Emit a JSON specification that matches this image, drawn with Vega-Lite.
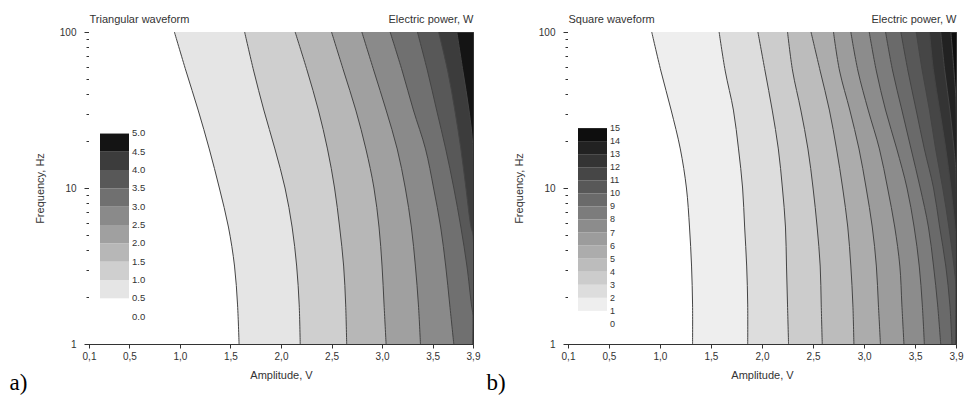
{
"$schema": "https://vega.github.io/schema/vega-lite/v6.json",
"padding": {"left": 8, "top": 12, "right": 8, "bottom": 2},
"background": "white",
"datasets": {
"tri": [
{"level":4.5,"f":100,"amp":3.74},{"level":4.5,"f":56.2,"amp":3.8},{"level":4.5,"f":31.6,"amp":3.86},{"level":4.5,"f":17.5,"amp":3.9},{"level":4.5,"f":1,"amp":3.9},
{"level":4,"f":100,"amp":3.56},{"level":4,"f":56.2,"amp":3.65},{"level":4,"f":31.6,"amp":3.72},{"level":4,"f":17.8,"amp":3.78},{"level":4,"f":10,"amp":3.83},{"level":4,"f":5.62,"amp":3.88},{"level":4,"f":5.0,"amp":3.9},{"level":4,"f":1,"amp":3.9},
{"level":3.5,"f":100,"amp":3.35},{"level":3.5,"f":56.2,"amp":3.45},{"level":3.5,"f":31.6,"amp":3.54},{"level":3.5,"f":17.8,"amp":3.63},{"level":3.5,"f":10,"amp":3.71},{"level":3.5,"f":5.62,"amp":3.78},{"level":3.5,"f":3.16,"amp":3.84},{"level":3.5,"f":1.78,"amp":3.885},{"level":3.5,"f":1.53,"amp":3.9},{"level":3.5,"f":1,"amp":3.9},
{"level":3,"f":100,"amp":3.08},{"level":3,"f":56.2,"amp":3.2},{"level":3,"f":31.6,"amp":3.31},{"level":3,"f":17.8,"amp":3.43},{"level":3,"f":10,"amp":3.51},{"level":3,"f":5.62,"amp":3.58},{"level":3,"f":3.16,"amp":3.63},{"level":3,"f":1.78,"amp":3.67},{"level":3,"f":1,"amp":3.71},
{"level":2.5,"f":100,"amp":2.8},{"level":2.5,"f":56.2,"amp":2.92},{"level":2.5,"f":31.6,"amp":3.04},{"level":2.5,"f":17.8,"amp":3.15},{"level":2.5,"f":10,"amp":3.23},{"level":2.5,"f":5.62,"amp":3.29},{"level":2.5,"f":3.16,"amp":3.33},{"level":2.5,"f":1.78,"amp":3.36},{"level":2.5,"f":1,"amp":3.38},
{"level":2,"f":100,"amp":2.5},{"level":2,"f":56.2,"amp":2.62},{"level":2,"f":31.6,"amp":2.74},{"level":2,"f":17.8,"amp":2.84},{"level":2,"f":10,"amp":2.92},{"level":2,"f":5.62,"amp":2.97},{"level":2,"f":3.16,"amp":3.0},{"level":2,"f":1.78,"amp":3.02},{"level":2,"f":1,"amp":3.04},
{"level":1.5,"f":100,"amp":2.14},{"level":1.5,"f":56.2,"amp":2.26},{"level":1.5,"f":31.6,"amp":2.37},{"level":1.5,"f":17.8,"amp":2.46},{"level":1.5,"f":10,"amp":2.53},{"level":1.5,"f":5.62,"amp":2.58},{"level":1.5,"f":3.16,"amp":2.62},{"level":1.5,"f":1.78,"amp":2.64},{"level":1.5,"f":1,"amp":2.65},
{"level":1,"f":100,"amp":1.64},{"level":1,"f":56.2,"amp":1.73},{"level":1,"f":31.6,"amp":1.83},{"level":1,"f":17.8,"amp":1.94},{"level":1,"f":10,"amp":2.04},{"level":1,"f":5.62,"amp":2.11},{"level":1,"f":3.16,"amp":2.155},{"level":1,"f":1.78,"amp":2.18},{"level":1,"f":1,"amp":2.19},
{"level":0.5,"f":100,"amp":0.945},{"level":0.5,"f":56.2,"amp":1.06},{"level":0.5,"f":31.6,"amp":1.18},{"level":0.5,"f":17.8,"amp":1.29},{"level":0.5,"f":10,"amp":1.39},{"level":0.5,"f":5.62,"amp":1.48},{"level":0.5,"f":3.16,"amp":1.54},{"level":0.5,"f":1.78,"amp":1.57},{"level":0.5,"f":1,"amp":1.585}
],
"sq": [
{"level":14,"f":100,"amp":3.85},{"level":14,"f":56.2,"amp":3.88},{"level":14,"f":35,"amp":3.9},{"level":14,"f":1,"amp":3.9},
{"level":13,"f":100,"amp":3.75},{"level":13,"f":56.2,"amp":3.79},{"level":13,"f":31.6,"amp":3.84},{"level":13,"f":17.8,"amp":3.88},{"level":13,"f":12,"amp":3.9},{"level":13,"f":1,"amp":3.9},
{"level":12,"f":100,"amp":3.64},{"level":12,"f":56.2,"amp":3.68},{"level":12,"f":31.6,"amp":3.74},{"level":12,"f":17.8,"amp":3.8},{"level":12,"f":10,"amp":3.85},{"level":12,"f":5.62,"amp":3.89},{"level":12,"f":4.6,"amp":3.9},{"level":12,"f":1,"amp":3.9},
{"level":11,"f":100,"amp":3.51},{"level":11,"f":56.2,"amp":3.57},{"level":11,"f":31.6,"amp":3.64},{"level":11,"f":17.8,"amp":3.7},{"level":11,"f":10,"amp":3.77},{"level":11,"f":5.62,"amp":3.83},{"level":11,"f":3.16,"amp":3.88},{"level":11,"f":2.3,"amp":3.9},{"level":11,"f":1,"amp":3.9},
{"level":10,"f":100,"amp":3.36},{"level":10,"f":56.2,"amp":3.43},{"level":10,"f":31.6,"amp":3.51},{"level":10,"f":17.8,"amp":3.59},{"level":10,"f":10,"amp":3.68},{"level":10,"f":5.62,"amp":3.74},{"level":10,"f":3.16,"amp":3.8},{"level":10,"f":1.78,"amp":3.84},{"level":10,"f":1,"amp":3.86},
{"level":9,"f":100,"amp":3.21},{"level":9,"f":56.2,"amp":3.28},{"level":9,"f":31.6,"amp":3.37},{"level":9,"f":17.8,"amp":3.46},{"level":9,"f":10,"amp":3.55},{"level":9,"f":5.62,"amp":3.63},{"level":9,"f":3.16,"amp":3.68},{"level":9,"f":1.78,"amp":3.72},{"level":9,"f":1,"amp":3.75},
{"level":8,"f":100,"amp":3.05},{"level":8,"f":56.2,"amp":3.12},{"level":8,"f":31.6,"amp":3.21},{"level":8,"f":17.8,"amp":3.32},{"level":8,"f":10,"amp":3.42},{"level":8,"f":5.62,"amp":3.49},{"level":8,"f":3.16,"amp":3.54},{"level":8,"f":1.78,"amp":3.57},{"level":8,"f":1,"amp":3.59},
{"level":7,"f":100,"amp":2.87},{"level":7,"f":56.2,"amp":2.94},{"level":7,"f":31.6,"amp":3.04},{"level":7,"f":17.8,"amp":3.15},{"level":7,"f":10,"amp":3.23},{"level":7,"f":5.62,"amp":3.3},{"level":7,"f":3.16,"amp":3.35},{"level":7,"f":1.78,"amp":3.37},{"level":7,"f":1,"amp":3.39},
{"level":6,"f":100,"amp":2.7},{"level":6,"f":56.2,"amp":2.76},{"level":6,"f":31.6,"amp":2.86},{"level":6,"f":17.8,"amp":2.95},{"level":6,"f":10,"amp":3.02},{"level":6,"f":5.62,"amp":3.08},{"level":6,"f":3.16,"amp":3.12},{"level":6,"f":1.78,"amp":3.14},{"level":6,"f":1,"amp":3.16},
{"level":5,"f":100,"amp":2.48},{"level":5,"f":56.2,"amp":2.57},{"level":5,"f":31.6,"amp":2.66},{"level":5,"f":17.8,"amp":2.73},{"level":5,"f":10,"amp":2.79},{"level":5,"f":5.62,"amp":2.84},{"level":5,"f":3.16,"amp":2.87},{"level":5,"f":1.78,"amp":2.89},{"level":5,"f":1,"amp":2.9},
{"level":4,"f":100,"amp":2.25},{"level":4,"f":56.2,"amp":2.3},{"level":4,"f":31.6,"amp":2.38},{"level":4,"f":17.8,"amp":2.45},{"level":4,"f":10,"amp":2.5},{"level":4,"f":5.62,"amp":2.54},{"level":4,"f":3.16,"amp":2.57},{"level":4,"f":1.78,"amp":2.58},{"level":4,"f":1,"amp":2.59},
{"level":3,"f":100,"amp":1.96},{"level":3,"f":56.2,"amp":2.03},{"level":3,"f":31.6,"amp":2.1},{"level":3,"f":17.8,"amp":2.16},{"level":3,"f":10,"amp":2.2},{"level":3,"f":5.62,"amp":2.23},{"level":3,"f":3.16,"amp":2.24},{"level":3,"f":1.78,"amp":2.25},{"level":3,"f":1,"amp":2.26},
{"level":2,"f":100,"amp":1.58},{"level":2,"f":56.2,"amp":1.64},{"level":2,"f":31.6,"amp":1.72},{"level":2,"f":17.8,"amp":1.77},{"level":2,"f":10,"amp":1.81},{"level":2,"f":5.62,"amp":1.83},{"level":2,"f":3.16,"amp":1.85},{"level":2,"f":1.78,"amp":1.86},{"level":2,"f":1,"amp":1.86},
{"level":1,"f":100,"amp":0.92},{"level":1,"f":56.2,"amp":1.01},{"level":1,"f":31.6,"amp":1.11},{"level":1,"f":17.8,"amp":1.2},{"level":1,"f":10,"amp":1.26},{"level":1,"f":5.62,"amp":1.29},{"level":1,"f":3.16,"amp":1.31},{"level":1,"f":1.78,"amp":1.32},{"level":1,"f":1,"amp":1.32}
]
},
"spacing": 95,
"bounds": "flush",
"resolve": {"scale": {"color": "independent", "x": "independent", "y": "independent"}, "legend": {"color": "independent"}},
"hconcat": [
{
"width": 384, "height": 312,
"view": {"fill": "#141414", "stroke": "#333333"},
"data": {"name": "tri"},
"encoding": {
 "y": {"field": "f", "type": "quantitative", "scale": {"type": "log", "domain": [1, 100], "nice": false},
  "axis": {"title": "Frequency, Hz", "values": [1,2,3,4,5,6,7,8,9,10,20,30,40,50,60,70,80,90,100], "format": "d",
   "labelExpr": "datum.value == 1 || datum.value == 10 || datum.value == 100 ? datum.label : ''",
   "tickSize": {"condition": {"test": "datum.value == 1 || datum.value == 10 || datum.value == 100", "value": 5}, "value": 3},
   "labelPadding": 8, "titlePadding": 14, "grid": false, "labelOverlap": false}}
},
"layer": [
 {"mark": {"type": "area", "orient": "horizontal", "interpolate": "catmull-rom", "clip": true},
  "encoding": {
   "x": {"field": "amp", "type": "quantitative", "stack": null, "scale": {"domain": [0.1, 3.9], "nice": false, "zero": false},
    "axis": {"orient": "bottom", "title": "Amplitude, V", "values": [0.1,0.5,1,1.5,2,2.5,3,3.5,3.9], "format": ".1f",
     "labelExpr": "replace(datum.label, '.', ',')", "grid": false, "tickSize": 4, "labelPadding": 3, "titlePadding": 8, "labelFlush": false, "labelOverlap": false}},
   "color": {"field": "level", "type": "quantitative",
    "scale": {"type": "threshold", "domain": [0.0001,0.5001,1.0001,1.5001,2.0001,2.5001,3.0001,3.5001,4.0001,4.5001,5.0001],
     "range": ["#ffffff","#ffffff","#e5e5e5","#cfcfcf","#b7b7b7","#a0a0a0","#8a8a8a","#707070","#585858","#3c3c3c","#141414","#ffffff"]},
    "legend": {"type": "gradient", "orient": "none", "legendX": 11, "legendY": 83, "direction": "vertical", "gradientLength": 220, "gradientThickness": 29, "gradientStrokeWidth": 0, "title": null, "format": ".1f", "labelFontSize": 9.5, "labelOffset": 3, "labelOverlap": false, "padding": 0}}
  }},
 {"mark": {"type": "line", "interpolate": "catmull-rom", "clip": true, "color": "#444444", "strokeWidth": 1},
  "encoding": {
   "x": {"field": "amp", "type": "quantitative", "axis": {"orient": "top", "title": "Electric power, W", "titleAnchor": "end", "labels": false, "ticks": false, "domain": true, "grid": false, "titlePadding": 8}},
   "detail": {"field": "level", "type": "nominal"},
   "order": {"field": "f", "type": "quantitative"}
  }},
 {"mark": {"type": "line", "opacity": 0},
  "encoding": {
   "x": {"field": "amp", "type": "quantitative", "axis": {"orient": "top", "title": "Triangular waveform", "titleAnchor": "start", "labels": false, "ticks": false, "domain": false, "grid": false, "titlePadding": 8}},
   "detail": {"field": "level", "type": "nominal"}
  }},
 {"mark": {"type": "line", "opacity": 0},
  "encoding": {
   "x": {"field": "amp", "type": "quantitative", "axis": {"orient": "bottom", "title": "a)", "labels": false, "ticks": false, "domain": false, "grid": false, "titleX": -80, "titleY": 45, "titleAlign": "left", "titleBaseline": "alphabetic", "titleFont": "Liberation Serif", "titleFontSize": 23, "titleColor": "#000000"}},
   "detail": {"field": "level", "type": "nominal"}
  }}
],
"resolve": {"axis": {"x": "independent"}}
},
{
"width": 388, "height": 312,
"view": {"fill": "#0e0e0e", "stroke": "#333333"},
"data": {"name": "sq"},
"encoding": {
 "y": {"field": "f", "type": "quantitative", "scale": {"type": "log", "domain": [1, 100], "nice": false},
  "axis": {"title": "Frequency, Hz", "values": [1,2,3,4,5,6,7,8,9,10,20,30,40,50,60,70,80,90,100], "format": "d",
   "labelExpr": "datum.value == 1 || datum.value == 10 || datum.value == 100 ? datum.label : ''",
   "tickSize": {"condition": {"test": "datum.value == 1 || datum.value == 10 || datum.value == 100", "value": 5}, "value": 3},
   "labelPadding": 8, "titlePadding": 14, "grid": false, "labelOverlap": false}}
},
"layer": [
 {"mark": {"type": "area", "orient": "horizontal", "interpolate": "catmull-rom", "clip": true},
  "encoding": {
   "x": {"field": "amp", "type": "quantitative", "stack": null, "scale": {"domain": [0.1, 3.9], "nice": false, "zero": false},
    "axis": {"orient": "bottom", "title": "Amplitude, V", "values": [0.1,0.5,1,1.5,2,2.5,3,3.5,3.9], "format": ".1f",
     "labelExpr": "replace(datum.label, '.', ',')", "grid": false, "tickSize": 4, "labelPadding": 3, "titlePadding": 8, "labelFlush": false, "labelOverlap": false}},
   "color": {"field": "level", "type": "quantitative",
    "scale": {"type": "threshold", "domain": [0.001,1.001,2.001,3.001,4.001,5.001,6.001,7.001,8.001,9.001,10.001,11.001,12.001,13.001,14.001,15.001],
     "range": ["#ffffff","#ffffff","#eeeeee","#dddddd","#cccccc","#bcbcbc","#acacac","#9c9c9c","#8c8c8c","#7c7c7c","#6a6a6a","#585858","#464646","#343434","#222222","#0e0e0e","#ffffff"]},
    "legend": {"type": "gradient", "orient": "none", "legendX": 10, "legendY": 83, "direction": "vertical", "gradientLength": 222, "gradientThickness": 29, "gradientStrokeWidth": 0, "title": null, "format": ".0f", "labelFontSize": 9, "labelOffset": 3, "labelOverlap": false, "padding": 0}}
  }},
 {"mark": {"type": "line", "interpolate": "catmull-rom", "clip": true, "color": "#444444", "strokeWidth": 1},
  "encoding": {
   "x": {"field": "amp", "type": "quantitative", "axis": {"orient": "top", "title": "Electric power, W", "titleAnchor": "end", "labels": false, "ticks": false, "domain": true, "grid": false, "titlePadding": 8}},
   "detail": {"field": "level", "type": "nominal"},
   "order": {"field": "f", "type": "quantitative"}
  }},
 {"mark": {"type": "line", "opacity": 0},
  "encoding": {
   "x": {"field": "amp", "type": "quantitative", "axis": {"orient": "top", "title": "Square waveform", "titleAnchor": "start", "labels": false, "ticks": false, "domain": false, "grid": false, "titlePadding": 8}},
   "detail": {"field": "level", "type": "nominal"}
  }},
 {"mark": {"type": "line", "opacity": 0},
  "encoding": {
   "x": {"field": "amp", "type": "quantitative", "axis": {"orient": "bottom", "title": "b)", "labels": false, "ticks": false, "domain": false, "grid": false, "titleX": -82, "titleY": 45, "titleAlign": "left", "titleBaseline": "alphabetic", "titleFont": "Liberation Serif", "titleFontSize": 23, "titleColor": "#000000"}},
   "detail": {"field": "level", "type": "nominal"}
  }}
],
"resolve": {"axis": {"x": "independent"}}
}
],
"config": {
 "view": {"stroke": "#333333", "strokeWidth": 1},
 "font": "Liberation Sans",
 "axis": {"labelFont": "Liberation Sans", "titleFont": "Liberation Sans", "labelColor": "#333333", "titleColor": "#333333", "domainColor": "#333333", "tickColor": "#333333", "titleFontWeight": "normal", "labelFontSize": 10, "titleFontSize": 11},
 "legend": {"labelFont": "Liberation Sans", "labelColor": "#333333"}
}
}
